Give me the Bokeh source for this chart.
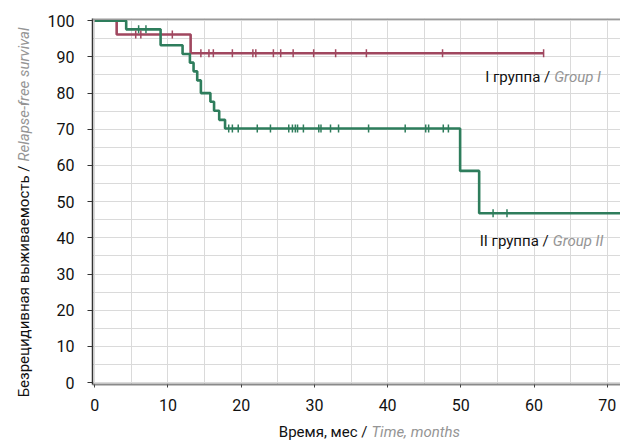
import numpy as np
from bokeh.plotting import figure
from bokeh.layouts import row, column
from bokeh.models import Range1d, SingleIntervalTicker, Label, Span
from bokeh.embed import file_html
from bokeh.resources import INLINE

# ---- data ----
times1 = [0, 3.0, 13.1, 61.3]
surv1 = [100, 96.2, 91.0, 91.0]
censor1 = [5.6, 6.3, 10.6, 14.5, 15.6, 16.2, 18.8, 21.6, 22.0, 24.4, 25.4,
           27.1, 29.9, 32.9, 37.1, 47.5, 61.3]

times2 = [0, 4.3, 9.0, 12.0, 13.0, 13.5, 14.0, 14.5, 15.8, 16.3, 17.0, 17.8,
          49.9, 52.5, 72]
surv2 = [100, 97.6, 93.2, 90.8, 88.4, 86.0, 83.5, 80.0, 77.6, 75.1, 72.6, 70.2,
         58.5, 46.8, 46.8]
censor2 = [6.0, 7.0, 18.3, 18.8, 19.6, 22.2, 24.0, 26.5, 27.0, 27.4, 27.7, 28.5,
           30.6, 30.9, 32.2, 33.3, 37.4, 42.4, 45.2, 45.6, 47.6, 48.3, 54.4, 56.3]

x_ticks = [0, 10, 20, 30, 40, 50, 60, 70]
y_ticks = [0, 10, 20, 30, 40, 50, 60, 70, 80, 90, 100]

group_labels = [("I группа /", "Group I"), ("II группа /", "Group II")]
x_title = ("Время, мес /", "Time, months")
y_title = ("Безрецидивная выживаемость /", "Relapse-free survival")

FONT = "Roboto"
RED = "#a0475f"
GREEN = "#2e7d5c"
BLACK = "#111111"
GRAY = "#959595"


def step_value(ts, ss, t):
    idx = np.searchsorted(ts, t, side="right") - 1
    return ss[max(idx, 0)]


def two_part(fig, x, y, a, b, size="15px", angle=0.0, gap=(4, 0)):
    fig.add_layout(Label(x=x, y=y, text=a, text_align="right", angle=angle,
                         text_baseline="middle", text_font=FONT,
                         text_font_size=size, text_color=BLACK))
    fig.add_layout(Label(x=x, y=y, text=b, text_align="left", angle=angle,
                         x_offset=gap[0], y_offset=gap[1],
                         text_baseline="middle", text_font=FONT,
                         text_font_size=size, text_color=GRAY,
                         text_font_style="italic"))


def blank(w, h):
    f = figure(width=w, height=h, output_backend="svg", toolbar_location=None,
               x_range=Range1d(0, w), y_range=Range1d(0, h), min_border=0)
    f.axis.visible = False
    f.grid.visible = False
    f.outline_line_color = None
    return f


p = figure(width=580, height=420, output_backend="svg", toolbar_location=None,
           x_range=Range1d(-0.3, 71.8), y_range=Range1d(-0.5, 100.6),
           min_border_left=52, min_border_right=0, min_border_top=18,
           min_border_bottom=36)
p.outline_line_color = None

p.xaxis.ticker = x_ticks
p.yaxis.ticker = y_ticks
p.xgrid.ticker = SingleIntervalTicker(interval=5)
p.ygrid.ticker = SingleIntervalTicker(interval=5)
for g in (p.xgrid, p.ygrid):
    g.grid_line_color = "#dadada"
    g.grid_line_width = 1

p.yaxis.axis_line_color = "#333333"
p.yaxis.axis_line_width = 1.5
p.yaxis.major_tick_line_color = "#333333"
p.yaxis.major_tick_out = 5
p.yaxis.major_tick_in = 0
p.yaxis.minor_tick_line_color = None
p.yaxis.major_label_standoff = 13
p.xaxis.axis_line_color = "#8a8a8a"
p.xaxis.axis_line_width = 2
p.xaxis.major_tick_line_color = "#444444"
p.xaxis.major_tick_out = 3
p.xaxis.major_tick_in = 0
p.xaxis.minor_tick_line_color = None
p.xaxis.major_label_standoff = 11
for ax in (p.xaxis, p.yaxis):
    ax.major_label_text_font = FONT
    ax.major_label_text_font_size = "16px"
    ax.major_label_text_color = BLACK

p.add_layout(Span(location=100.6, dimension="width", line_color="#9a9a9a",
                  line_width=3))

p.step(times1, surv1, mode="after", line_color=RED, line_width=2.6)
p.step(times2, surv2, mode="after", line_color=GREEN, line_width=2.6)

c1y = [step_value(times1, surv1, t) for t in censor1]
c2y = [step_value(times2, surv2, t) for t in censor2]
p.scatter(censor1, c1y, marker="dash", angle=np.pi / 2, size=8,
          line_color=RED, line_width=1.5)
p.scatter(censor2, c2y, marker="dash", angle=np.pi / 2, size=8,
          line_color=GREEN, line_width=1.5)

two_part(p, 62.2, 84.5, *group_labels[0])
two_part(p, 62.0, 39.2, *group_labels[1])

# y title strip (left), x title strip (bottom)
fy = blank(40, 441)
two_part(fy, 23, 441 - 165, *y_title, size="15px", angle=np.pi / 2,
         gap=(0, 4))
fx = blank(580, 21)
two_part(fx, 302, 10, *x_title, size="15px")

layout = row(fy, column(p, fx))
open("out.html", "w").write(file_html(layout, INLINE))
